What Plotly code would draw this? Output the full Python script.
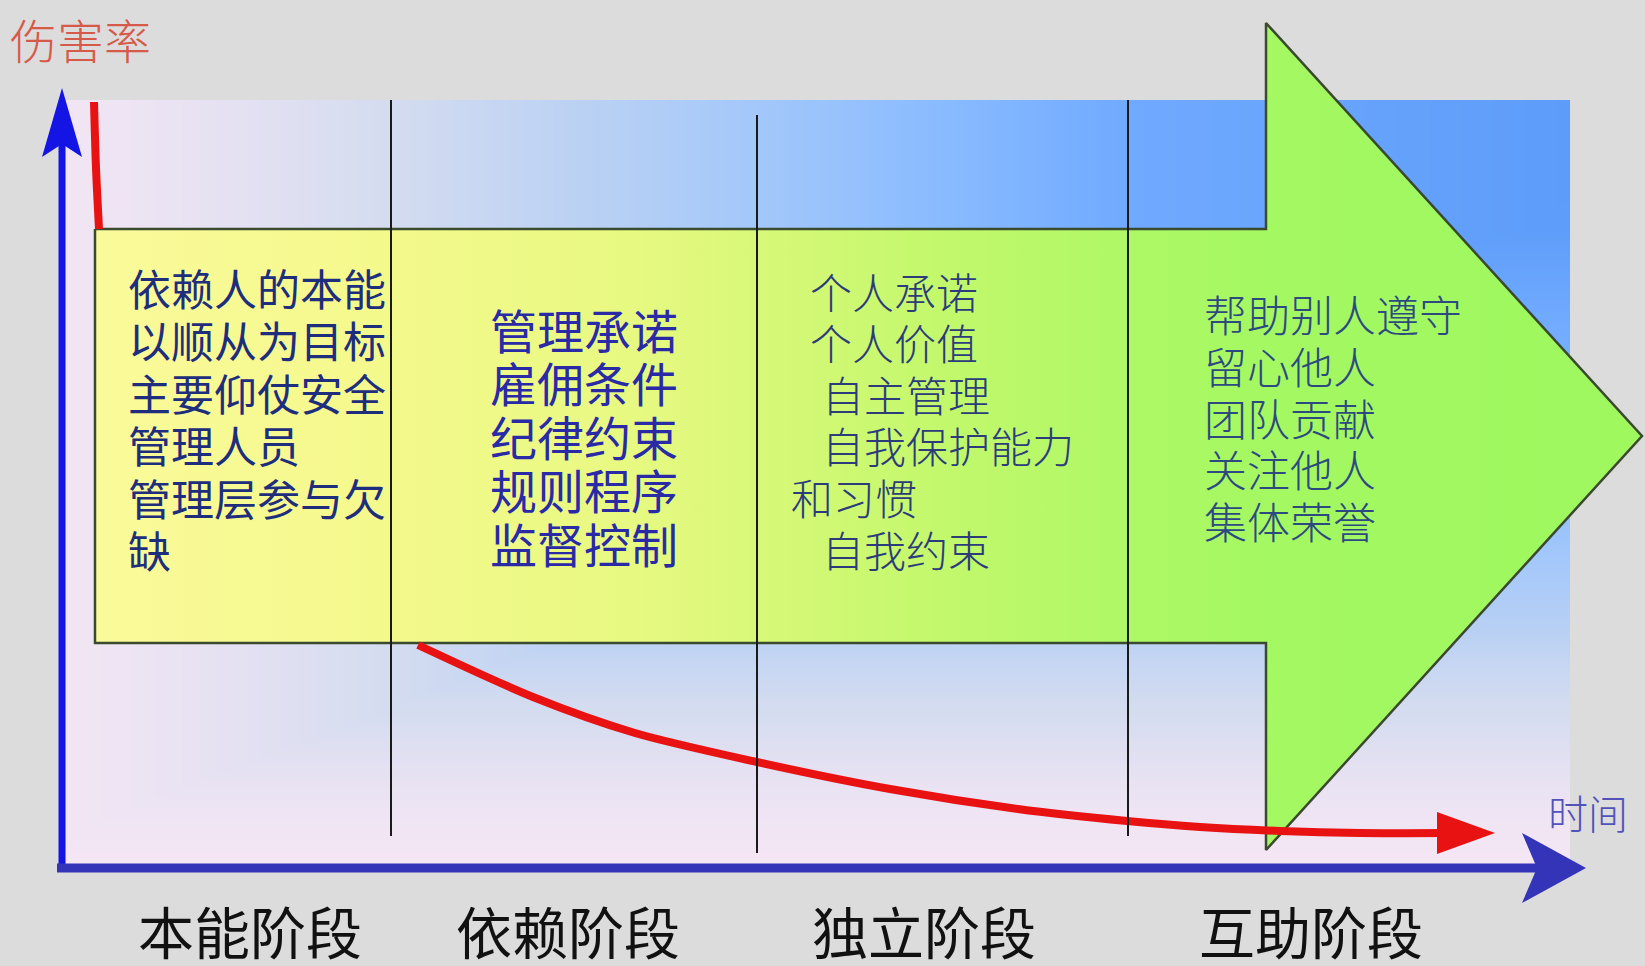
import numpy as np
import plotly.graph_objects as go

W, H = 1645, 966

# ---------------- data ----------------
stages = ["本能阶段", "依赖阶段", "独立阶段", "互助阶段"]
stage_centers = [250, 568, 924, 1311]
stage_bounds = [391, 757, 1128]

col1_lines = ["依赖人的本能", "以顺从为目标", "主要仰仗安全", "管理人员", "管理层参与欠", "缺"]
col2_lines = ["管理承诺", "雇佣条件", "纪律约束", "规则程序", "监督控制"]
col3_lines = ["个人承诺", "个人价值", "自主管理", "自我保护能力", "和习惯", "自我约束"]
col4_lines = ["帮助别人遵守", "留心他人", "团队贡献", "关注他人", "集体荣誉"]

# injury-rate curve (time, rate)
curve_time = [94, 96, 99, None, 418, 533, 635, 757, 890, 1018, 1127, 1200, 1280, 1360, 1445]
curve_rate = [102, 168, 229, None, 645, 697, 733, 762, 789, 809, 821, 827, 831, 833, 833]

# big arrow outline
arrow_x = [95, 1266, 1266, 1642, 1266, 1266, 95, 95]
arrow_y = [229, 229, 23, 436, 850, 643, 643, 229]

y_title = "伤害率"
x_title = "时间"

# ---------------- background gradient ----------------
def bg_level(xx, yy):
    fx = np.interp(xx, [66, 200, 390, 560, 750, 950, 1128, 1568],
                   [0.06, 0.15, 0.3, 0.42, 0.56, 0.72, 0.85, 0.98])
    gy = np.interp(yy, [100, 230, 315, 472, 630, 660, 720, 780, 840, 866],
                   [1.0, 0.97, 0.85, 0.7, 0.45, 0.38, 0.28, 0.15, 0.05, 0.02])
    return np.minimum(fx, gy)

gxs = np.arange(66 + 4, 1568, 8)
gys = np.arange(100 + 4, 866, 8)
GX, GY = np.meshgrid(gxs, gys)
Z = bg_level(GX, GY)

fig = go.Figure()
fig.add_trace(go.Heatmap(
    x=gxs, y=gys, z=Z, zmin=0, zmax=1, zsmooth="best", showscale=False, hoverinfo="skip",
    colorscale=[[0, "#f7e7f4"], [0.1, "#eee4f3"], [0.3, "#d4dcf0"], [0.45, "#b8d0f4"],
                [0.56, "#a4c8fa"], [0.72, "#88baff"], [0.85, "#70aaff"], [1, "#5a9af8"]],
))

fig.add_trace(go.Scatter(
    x=arrow_x, y=arrow_y, mode="lines", fill="toself",
    fillgradient=dict(type="horizontal", start=95, stop=1642,
                      colorscale=[[0, "#fafa9a"], [0.19, "#f4f98c"], [0.34, "#e8f982"],
                                  [0.43, "#d8f878"], [0.55, "#c2f86c"], [0.67, "#aef866"],
                                  [0.76, "#a4f862"], [1, "#9ef85e"]]),
    line=dict(color="#3a4a2e", width=2.5), hoverinfo="skip", showlegend=False,
))

fig.add_trace(go.Scatter(
    x=curve_time, y=curve_rate, mode="lines", connectgaps=False,
    line=dict(color="#e81212", width=8, shape="spline", smoothing=0.8),
    hoverinfo="skip", showlegend=False,
))

shapes = []
for xb, (ya, yb) in zip(stage_bounds, [(100, 836), (115, 853), (100, 836)]):
    shapes.append(dict(type="line", xref="x", yref="y", x0=xb, x1=xb, y0=ya, y1=yb,
                       line=dict(color="#1a1a1a", width=2), layer="above"))
# red arrow head
shapes.append(dict(type="path", xref="x", yref="y", path="M1495,833 L1437,854 L1437,812 Z",
                   fillcolor="#e81212", line=dict(width=0), layer="above"))
# y axis
shapes.append(dict(type="line", xref="x", yref="y", x0=62, x1=62, y0=872, y1=140,
                   line=dict(color="#1414e4", width=7), layer="above"))
shapes.append(dict(type="path", xref="x", yref="y", path="M62,88 L82,157 L62,144 L42,157 Z",
                   fillcolor="#1414e4", line=dict(width=0), layer="above"))
# x axis
shapes.append(dict(type="line", xref="x", yref="y", x0=57, x1=1540, y0=868, y1=868,
                   line=dict(color="#3434b8", width=9), layer="above"))
shapes.append(dict(type="path", xref="x", yref="y", path="M1586,868 L1522,903 L1537,868 L1522,833 Z",
                   fillcolor="#3434b8", line=dict(width=0), layer="above"))

ann = []
FONT = "Noto Sans CJK SC, sans-serif"

def add_col(lines, xs, y0, dy, size, color, weight=400):
    for i, t in enumerate(lines):
        x = xs[i] if isinstance(xs, (list, tuple)) else xs
        ann.append(dict(x=x, y=y0 + i * dy, xref="x", yref="y", text=t, showarrow=False,
                        xanchor="left", yanchor="middle",
                        font=dict(family=FONT, size=size, color=color, weight=weight)))

add_col(col1_lines, 126, 287, 52.4, 43, "#1e2e7c")
add_col(col2_lines, 488, 328, 53.5, 47, "#2a2aa6")
add_col(col3_lines, [808, 808, 820, 820, 789, 820], 290, 51.6, 42, "#2c3c7a", 300)
add_col(col4_lines, 1202, 313, 51.8, 43, "#2c4a80", 300)

for s, cx in zip(stages, stage_centers):
    ann.append(dict(x=cx, y=929, xref="x", yref="y", text=s, showarrow=False,
                    xanchor="center", yanchor="middle",
                    font=dict(family=FONT, size=56, color="#111111")))

ann.append(dict(x=8, y=38, xref="x", yref="y", text=y_title, showarrow=False,
                xanchor="left", yanchor="middle",
                font=dict(family=FONT, size=47, color="#d65a4a", weight=300)))
ann.append(dict(x=1588, y=812, xref="x", yref="y", text=x_title, showarrow=False,
                xanchor="center", yanchor="middle",
                font=dict(family=FONT, size=40, color="#5252bb", weight=300)))

fig.update_layout(
    width=W, height=H, margin=dict(l=0, r=0, t=0, b=0),
    paper_bgcolor="#dcdcdc", plot_bgcolor="#dcdcdc",
    xaxis=dict(range=[0, W], visible=False, fixedrange=True),
    yaxis=dict(range=[H, 0], visible=False, fixedrange=True),
    shapes=shapes, annotations=ann, showlegend=False,
)

fig.write_html("out.html", config={"displayModeBar": False},
               post_script="document.body.style.margin='0';document.body.style.overflow='hidden';")
